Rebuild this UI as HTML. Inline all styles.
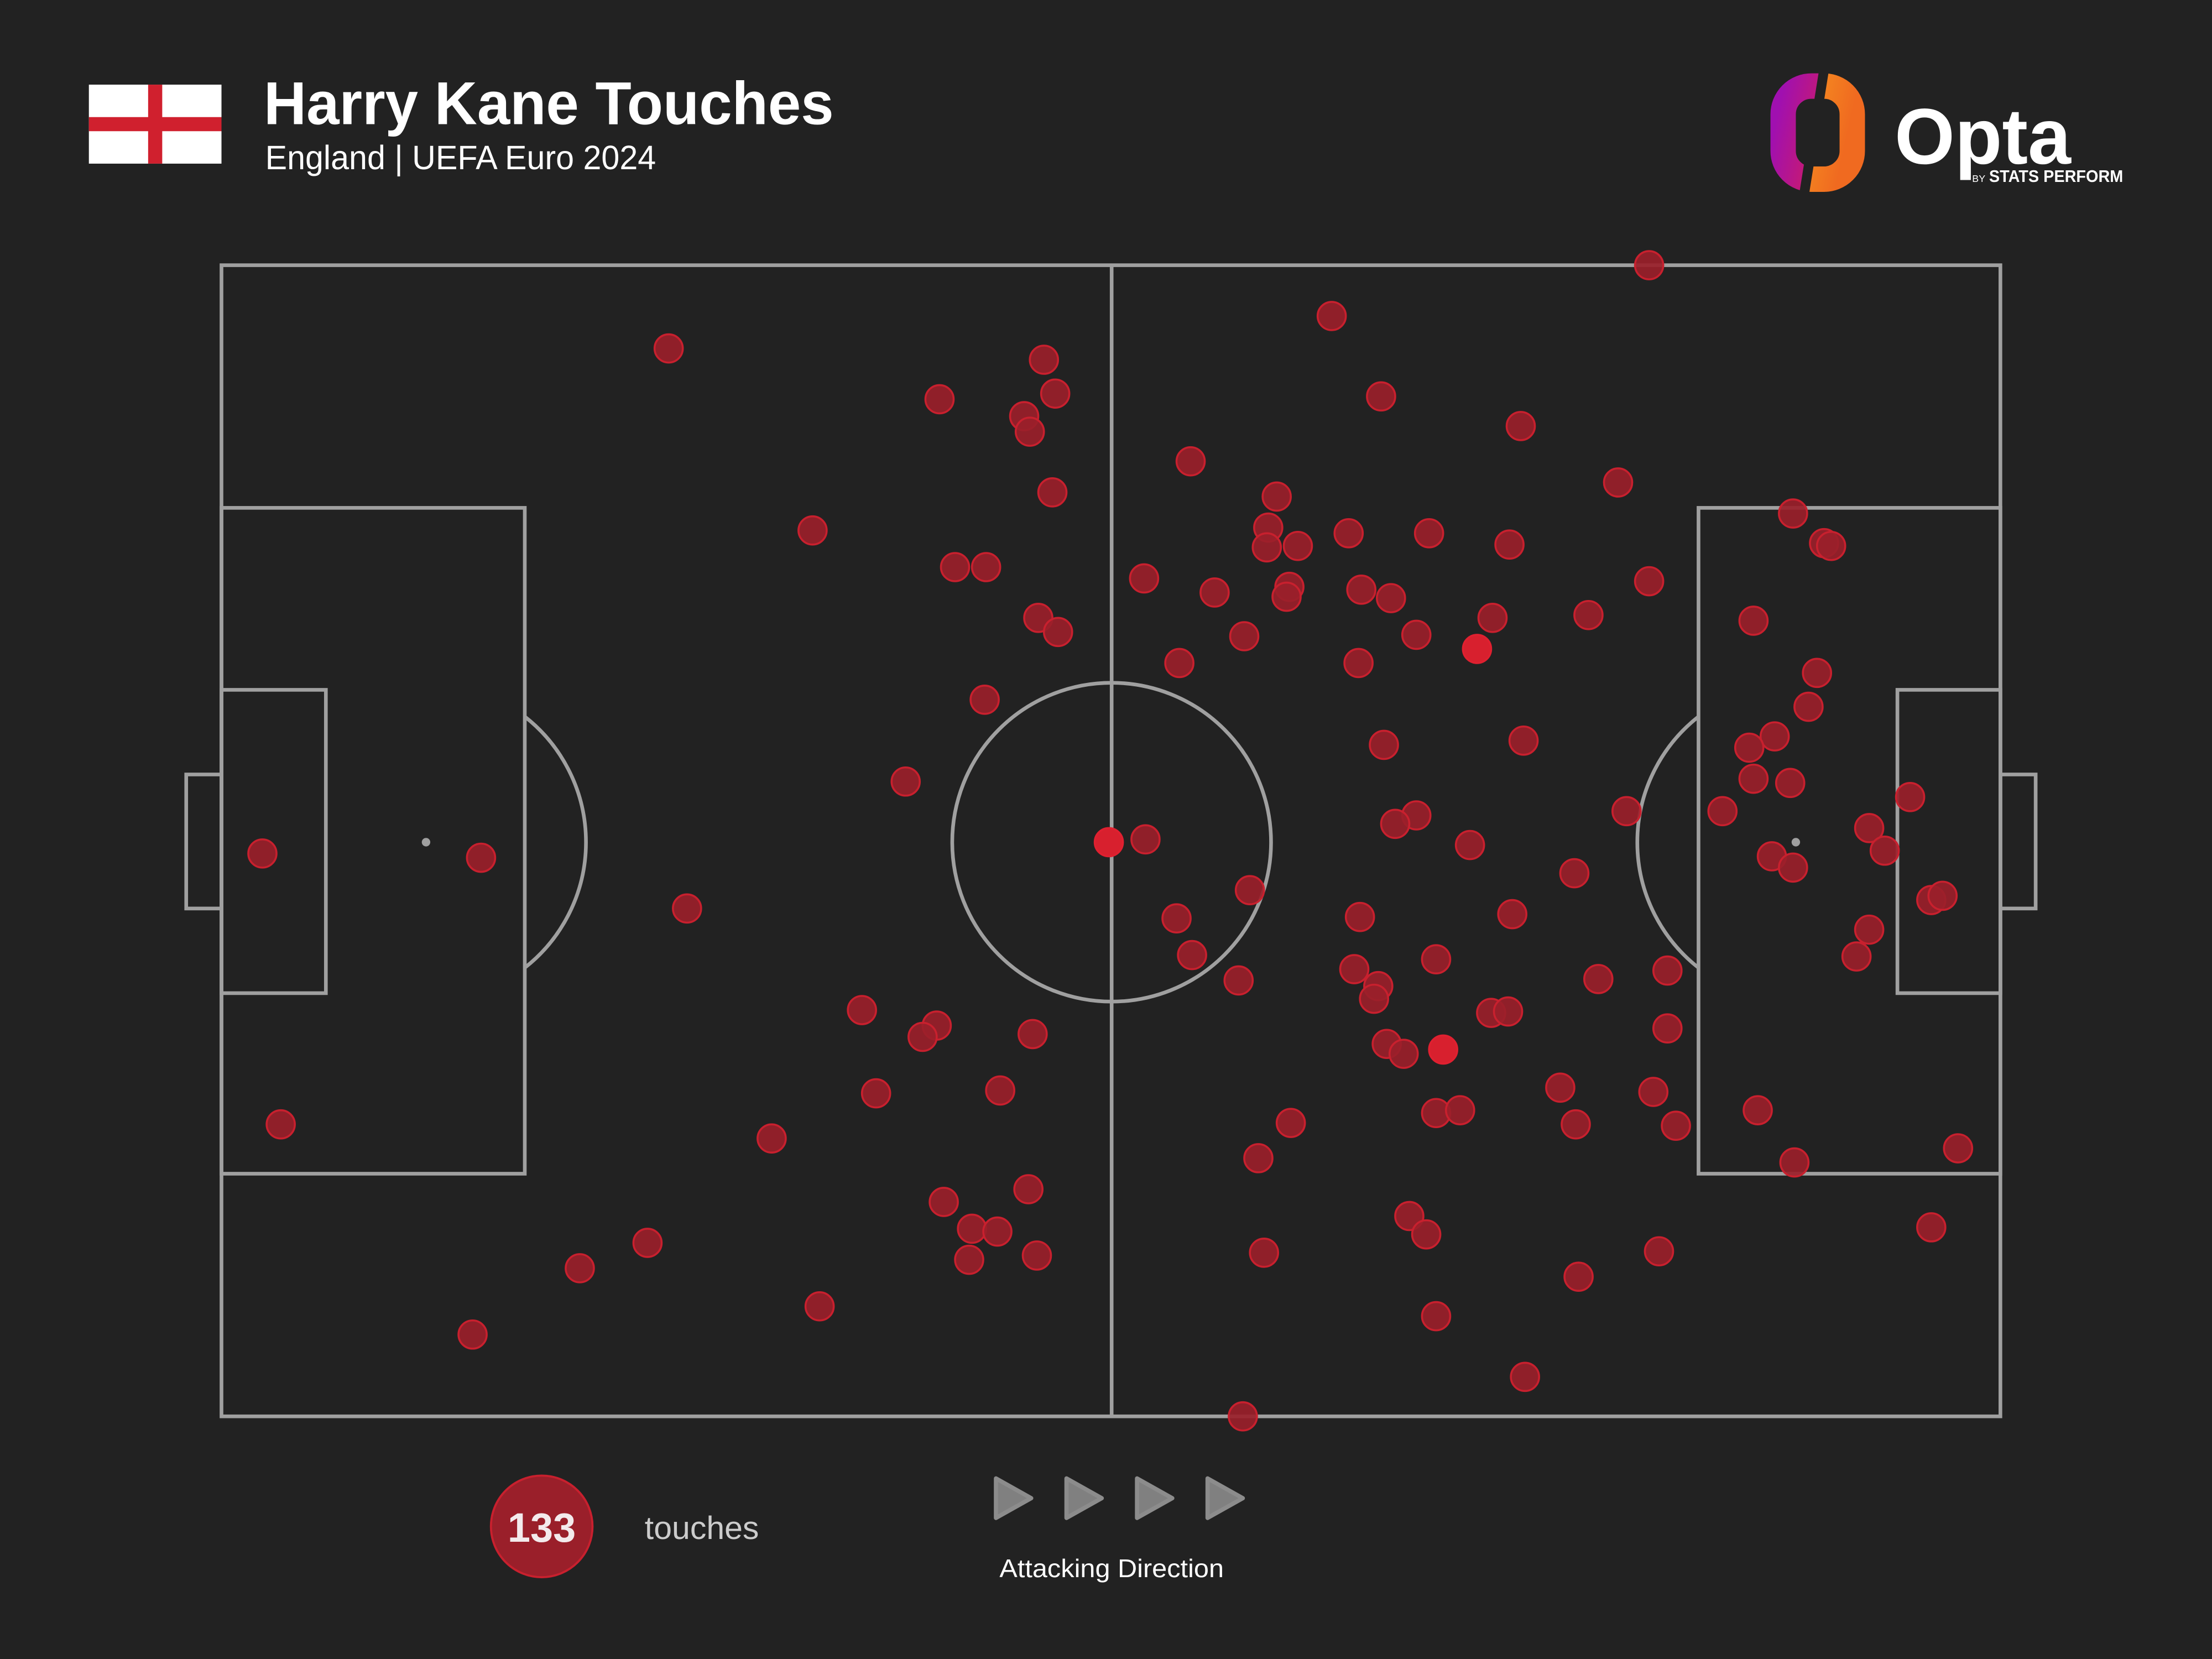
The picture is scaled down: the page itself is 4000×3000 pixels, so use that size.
<!DOCTYPE html>
<html><head><meta charset="utf-8"><style>
html,body{margin:0;padding:0;background:#222;}
svg{display:block;}
</style></head><body>
<svg width="4000" height="3000" viewBox="0 0 1568 1176" xmlns="http://www.w3.org/2000/svg">
<defs>
<linearGradient id="g1" x1="0" y1="0" x2="1" y2="0.3"><stop offset="0" stop-color="#a010b0"/><stop offset="1" stop-color="#e0204a"/></linearGradient>
<linearGradient id="g2" x1="0" y1="0" x2="1" y2="0.3"><stop offset="0" stop-color="#f8a020"/><stop offset="1" stop-color="#f06a20"/></linearGradient>
<clipPath id="cl"><polygon points="1240,40 1291,40 1275,140 1240,140"/></clipPath>
<clipPath id="cr"><polygon points="1298,40 1340,40 1340,140 1282,140"/></clipPath>
</defs>
<rect width="1568" height="1176" fill="#222222"/>
<!-- flag -->
<rect x="63" y="60" width="94" height="56" fill="#fff"/>
<rect x="105" y="60" width="10" height="56" fill="#d0202e"/>
<rect x="63" y="83" width="94" height="10" fill="#d0202e"/>
<text x="187" y="88" font-family="Liberation Sans, sans-serif" font-weight="bold" font-size="43" fill="#fff" textLength="404" lengthAdjust="spacingAndGlyphs">Harry Kane Touches</text>
<text x="188" y="120" font-family="Liberation Sans, sans-serif" font-size="24" fill="#fff" textLength="277" lengthAdjust="spacingAndGlyphs">England | UEFA Euro 2024</text>
<!-- opta logo -->
<rect x="1264" y="61" width="49" height="66" rx="20" fill="none" stroke="url(#g1)" stroke-width="18" clip-path="url(#cl)"/>
<rect x="1264" y="61" width="49" height="66" rx="20" fill="none" stroke="url(#g2)" stroke-width="18" clip-path="url(#cr)"/>
<text x="1343" y="116" font-family="Liberation Sans, sans-serif" font-weight="bold" font-size="56" fill="#fff" textLength="125" lengthAdjust="spacingAndGlyphs">Opta</text>
<text x="1398" y="129" font-family="Liberation Sans, sans-serif" font-size="7" fill="#fff">BY</text>
<text x="1410" y="129" font-family="Liberation Sans, sans-serif" font-weight="bold" font-size="12" fill="#fff" textLength="95" lengthAdjust="spacingAndGlyphs">STATS PERFORM</text>
<!-- pitch -->
<g fill="none" stroke="#a0a0a0" stroke-width="2.6">
<rect x="157" y="188" width="1261" height="816"/>
<line x1="788" y1="188" x2="788" y2="1004"/>
<circle cx="788" cy="597" r="113"/>
<rect x="157" y="360" width="215" height="472"/>
<rect x="157" y="489" width="74" height="215"/>
<rect x="132" y="549" width="25" height="95"/>
<path d="M372,508 A113,113 0 0 1 372,686"/>
<rect x="1204" y="360" width="214" height="472"/>
<rect x="1345" y="489" width="73" height="215"/>
<rect x="1418" y="549" width="25" height="95"/>
<path d="M1204,508 A113,113 0 0 0 1204,686"/>
</g>
<circle cx="302" cy="597" r="3" fill="#a0a0a0"/>
<circle cx="1273" cy="597" r="3" fill="#a0a0a0"/>
<!-- dots -->
<g fill="#9a1f2a" stroke="#c8202e" stroke-width="1.4" fill-opacity="0.92">
<circle cx="474" cy="247" r="10"/><circle cx="666" cy="283" r="10"/><circle cx="740" cy="255" r="10"/><circle cx="748" cy="279" r="10"/><circle cx="726" cy="295" r="10"/><circle cx="730" cy="306" r="10"/><circle cx="746" cy="349" r="10"/><circle cx="576" cy="376" r="10"/><circle cx="677" cy="402" r="10"/><circle cx="699" cy="402" r="10"/><circle cx="736" cy="438" r="10"/><circle cx="750" cy="448" r="10"/><circle cx="698" cy="496" r="10"/><circle cx="642" cy="554" r="10"/><circle cx="186" cy="605" r="10"/><circle cx="341" cy="608" r="10"/><circle cx="487" cy="644" r="10"/><circle cx="199" cy="797" r="10"/><circle cx="611" cy="716" r="10"/><circle cx="664" cy="727" r="10"/><circle cx="654" cy="735" r="10"/><circle cx="732" cy="733" r="10"/><circle cx="621" cy="775" r="10"/><circle cx="709" cy="773" r="10"/><circle cx="547" cy="807" r="10"/><circle cx="669" cy="852" r="10"/><circle cx="729" cy="843" r="10"/><circle cx="689" cy="871" r="10"/><circle cx="707" cy="873" r="10"/><circle cx="687" cy="893" r="10"/><circle cx="735" cy="890" r="10"/><circle cx="459" cy="881" r="10"/><circle cx="411" cy="899" r="10"/><circle cx="581" cy="926" r="10"/><circle cx="335" cy="946" r="10"/>
<circle cx="812" cy="595" r="10"/><circle cx="834" cy="651" r="10"/><circle cx="845" cy="677" r="10"/><circle cx="886" cy="631" r="10"/><circle cx="878" cy="695" r="10"/><circle cx="811" cy="410" r="10"/><circle cx="844" cy="327" r="10"/><circle cx="836" cy="470" r="10"/><circle cx="861" cy="420" r="10"/><circle cx="882" cy="451" r="10"/><circle cx="905" cy="352" r="10"/><circle cx="899" cy="374" r="10"/><circle cx="898" cy="388" r="10"/><circle cx="920" cy="387" r="10"/><circle cx="914" cy="416" r="10"/><circle cx="912" cy="423" r="10"/><circle cx="944" cy="224" r="10"/><circle cx="979" cy="281" r="10"/><circle cx="956" cy="378" r="10"/><circle cx="965" cy="418" r="10"/><circle cx="986" cy="424" r="10"/><circle cx="963" cy="470" r="10"/><circle cx="1004" cy="450" r="10"/><circle cx="1013" cy="378" r="10"/><circle cx="1058" cy="438" r="10"/><circle cx="1070" cy="386" r="10"/><circle cx="1078" cy="302" r="10"/><circle cx="1147" cy="342" r="10"/><circle cx="1169" cy="412" r="10"/><circle cx="1126" cy="436" r="10"/><circle cx="1169" cy="188" r="10"/><circle cx="981" cy="528" r="10"/><circle cx="1080" cy="525" r="10"/><circle cx="1004" cy="578" r="10"/><circle cx="989" cy="584" r="10"/><circle cx="1042" cy="599" r="10"/><circle cx="1116" cy="619" r="10"/><circle cx="1153" cy="575" r="10"/><circle cx="964" cy="650" r="10"/><circle cx="1018" cy="680" r="10"/><circle cx="1072" cy="648" r="10"/><circle cx="960" cy="687" r="10"/><circle cx="977" cy="699" r="10"/><circle cx="974" cy="708" r="10"/><circle cx="1057" cy="718" r="10"/><circle cx="1069" cy="717" r="10"/><circle cx="1133" cy="694" r="10"/><circle cx="1182" cy="688" r="10"/><circle cx="983" cy="740" r="10"/><circle cx="995" cy="747" r="10"/><circle cx="1106" cy="771" r="10"/><circle cx="1117" cy="797" r="10"/><circle cx="1172" cy="774" r="10"/><circle cx="1188" cy="798" r="10"/><circle cx="1182" cy="729" r="10"/><circle cx="915" cy="796" r="10"/><circle cx="892" cy="821" r="10"/><circle cx="1018" cy="789" r="10"/><circle cx="1035" cy="787" r="10"/><circle cx="999" cy="862" r="10"/><circle cx="1011" cy="875" r="10"/><circle cx="896" cy="888" r="10"/><circle cx="1018" cy="933" r="10"/><circle cx="1081" cy="976" r="10"/><circle cx="881" cy="1004" r="10"/><circle cx="1119" cy="905" r="10"/><circle cx="1176" cy="887" r="10"/>
<circle cx="1271" cy="364" r="10"/><circle cx="1293" cy="385" r="10"/><circle cx="1298" cy="387" r="10"/><circle cx="1243" cy="440" r="10"/><circle cx="1288" cy="477" r="10"/><circle cx="1282" cy="501" r="10"/><circle cx="1258" cy="522" r="10"/><circle cx="1240" cy="530" r="10"/><circle cx="1243" cy="552" r="10"/><circle cx="1269" cy="555" r="10"/><circle cx="1221" cy="575" r="10"/><circle cx="1256" cy="607" r="10"/><circle cx="1271" cy="615" r="10"/><circle cx="1325" cy="587" r="10"/><circle cx="1336" cy="603" r="10"/><circle cx="1354" cy="565" r="10"/><circle cx="1369" cy="638" r="10"/><circle cx="1377" cy="635" r="10"/><circle cx="1325" cy="659" r="10"/><circle cx="1316" cy="678" r="10"/><circle cx="1246" cy="787" r="10"/><circle cx="1272" cy="824" r="10"/><circle cx="1388" cy="814" r="10"/><circle cx="1369" cy="870" r="10"/>
</g>
<g fill="#d8202e" stroke="#e02030" stroke-width="1.4">
<circle cx="786" cy="597" r="10"/><circle cx="1047" cy="460" r="10"/><circle cx="1023" cy="744" r="10"/>
</g>
<!-- legend -->
<circle cx="384" cy="1082" r="36" fill="#9a1f2a" stroke="#c8202e" stroke-width="1.5"/>
<text x="384" y="1093" text-anchor="middle" font-family="Liberation Sans, sans-serif" font-weight="bold" font-size="29" fill="#f3eaec">133</text>
<text x="457" y="1091" font-family="Liberation Sans, sans-serif" font-size="23" fill="#cccccc" textLength="81" lengthAdjust="spacingAndGlyphs">touches</text>
<g fill="#808080" stroke="#8c8c8c" stroke-width="3" stroke-linejoin="round">
<path d="M706,1048 L731,1062 L706,1076 Z"/>
<path d="M756,1048 L781,1062 L756,1076 Z"/>
<path d="M806,1048 L831,1062 L806,1076 Z"/>
<path d="M856,1048 L881,1062 L856,1076 Z"/>
</g>
<text x="788" y="1118" text-anchor="middle" font-family="Liberation Sans, sans-serif" font-size="18" fill="#ffffff" textLength="159" lengthAdjust="spacingAndGlyphs">Attacking Direction</text>
</svg>
</body></html>
